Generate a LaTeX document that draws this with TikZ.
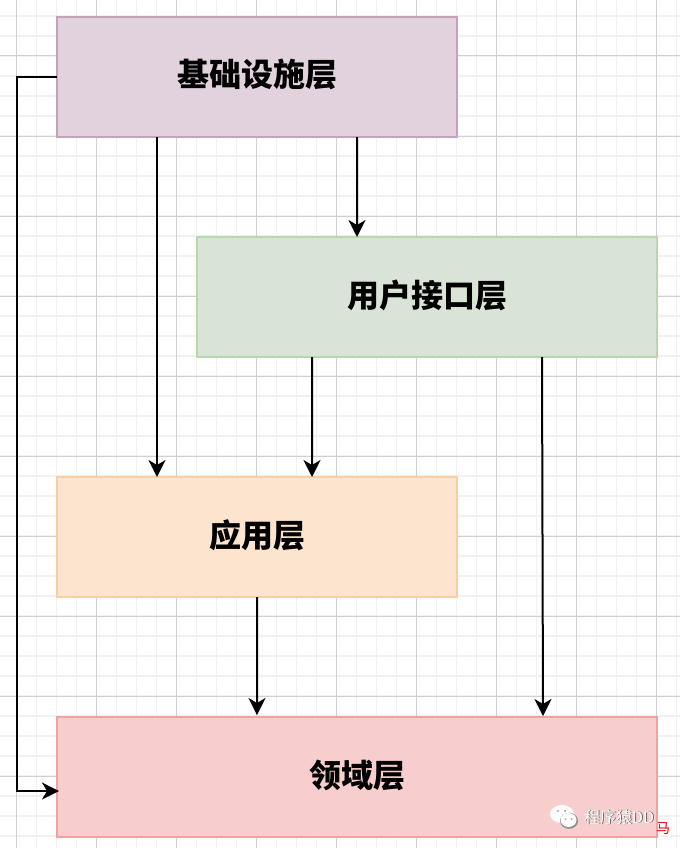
\documentclass[tikz,border=0pt]{standalone}
\usepackage{fontspec}
\setmainfont{Noto Sans CJK SC}
\usetikzlibrary{arrows.meta,positioning,calc}
\definecolor{gridminor}{HTML}{F1F1F1}
\definecolor{gridmajor}{HTML}{D0D0D0}
\definecolor{infrafill}{HTML}{E2D2DD}
\definecolor{infraline}{HTML}{C4A3BA}
\definecolor{uifill}{HTML}{D9E4D7}
\definecolor{uiline}{HTML}{B9D7A8}
\definecolor{appfill}{HTML}{FCE4CF}
\definecolor{appline}{HTML}{F8CFA2}
\definecolor{domainfill}{HTML}{F8CDCD}
\definecolor{domainline}{HTML}{F2A0A0}
\tikzset{
  layer/.style={rectangle,draw,line width=2pt,outer sep=0pt,minimum height=120pt,inner sep=0pt,anchor=north west,text height=24pt,text depth=4pt,font=\fontsize{32}{36}\selectfont\bfseries},
  dep/.style={-{Stealth[length=17pt,width=17pt,inset=5pt]},line width=2pt,line join=miter},
  marktext/.style={font=\fontsize{16}{20}\selectfont,anchor=west,inner sep=0pt}
}
\begin{document}
\begin{tikzpicture}[x=1pt,y=-1pt]
  \useasboundingbox (0,0) rectangle (680,848);
  \fill[white] (0,0) rectangle (680,848);
  % background grid
  \foreach \x in {16,36,...,676} \draw[gridminor,line width=1.5pt] (\x.5,0) -- (\x.5,848);
  \foreach \y in {16,36,...,836} \draw[gridminor,line width=1.5pt] (0,\y) -- (680,\y);
  \foreach \x in {16,96,...,656} \draw[gridmajor,line width=1pt] (\x.5,0) -- (\x.5,848);
  \foreach \y in {56,136,...,816} \draw[gridmajor,line width=1pt] (0,\y) -- (680,\y);
  % layers
  \node[layer,minimum width=400pt,fill=infrafill,draw=infraline] (infra) at (57,17) {基础设施层};
  \node[layer,minimum width=460pt,fill=uifill,draw=uiline] (ui) at (197,237) {用户接口层};
  \node[layer,minimum width=400pt,fill=appfill,draw=appline] (app) at (57,477) {应用层};
  \node[layer,minimum width=600pt,fill=domainfill,draw=domainline] (domain) at (57,717) {领域层};
  % connectors
  \draw[dep] ($(infra.south west)!0.25!(infra.south east)$) -- ($(app.north west)!0.25!(app.north east)$);
  \draw[dep] ($(infra.south west)!0.75!(infra.south east)$) -- ($(ui.north west)!0.34783!(ui.north east)$);
  \draw[dep] ($(ui.south west)!0.25!(ui.south east)$) -- ($(app.north west)!0.6375!(app.north east)$);
  \draw[dep,shorten >=1pt] ($(ui.south west)!0.75!(ui.south east)$) -- ($(domain.north west)!0.81!(domain.north east)$);
  \draw[dep,shorten >=2pt] (app.south) -- ($(domain.north west)!0.33333!(domain.north east)$);
  \coordinate (domainin) at ($(domain.north west)!0.617!(domain.south west)$);
  \draw[dep,shorten >=-2pt] (infra.west) -- ++(-40,0) |- (domainin);
  % watermark
  \fill[white] (562,814) ellipse (12pt and 9pt);
  \fill[black!45] (569,820.8) ellipse (9pt and 8pt);
  \fill[white] (568.5,820) ellipse (8pt and 7pt);
  \fill[black!35] (558,811) circle (1.2pt) (565,811) circle (1.2pt) (565.5,819) circle (1pt) (571.5,819) circle (1pt);
  \node[marktext,text=black!60] (markshade) at (584.8,817.8) {程序猿DD};
  \node[marktext,text=white] (mark) at (584,817) {程序猿DD};
  \node[font=\fontsize{14}{18}\selectfont,text=red!85!black,inner sep=0pt] (markred) at (663,829) {马};
\end{tikzpicture}
\end{document}
